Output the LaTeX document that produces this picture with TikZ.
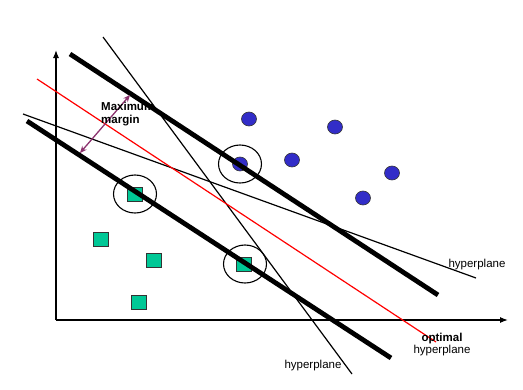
\documentclass[tikz,border=0pt]{standalone}
\usepackage{fontspec}
\setmainfont{Liberation Sans}
\usetikzlibrary{arrows.meta}
\definecolor{dotblue}{RGB}{50,45,200}
\definecolor{boxgreen}{RGB}{0,200,150}
\definecolor{marginpurple}{RGB}{140,50,110}
\begin{document}
\begin{tikzpicture}[x=1pt,y=-1pt,
    support/.style={line width=4.8pt},
    thinplane/.style={line width=1.2pt},
    dot/.style={fill=dotblue,draw=black!80,line width=0.6pt},
    box/.style={fill=boxgreen,draw=black!80,line width=0.8pt},
    ring/.style={draw=black,line width=1.1pt},
    lbl/.style={font=\fontsize{11.5}{12}\selectfont,inner sep=0pt}]
  \useasboundingbox (0,0) rectangle (523,389);
  % axes
  \draw[line width=1.2pt,-{Latex[length=8pt,width=6pt]}] (56,320) -- (508,320);
  \draw[line width=1.2pt,-{Latex[length=8pt,width=6pt]}] (56,320) -- (56,50);
  % class one
  \foreach \x/\y in {249/119,335/127,240/164,292/160,392/173,363/198}
    \draw[dot] (\x,\y) ellipse (7.5 and 7);
  % class two
  \foreach \x/\y in {135/194,101/239,154/260,139/302,244/264}
    \draw[box] (\x-7.5,\y-7) rectangle (\x+7.5,\y+7);
  % support vectors
  \draw[ring] (240,164) ellipse (21.5 and 19);
  \draw[ring] (135,194) ellipse (21.5 and 19);
  \draw[ring] (245,264) ellipse (21.5 and 19);
  % hyperplanes
  \draw[thinplane] (103,37) -- (352,374);
  \draw[thinplane] (23,114) -- (476,278);
  \draw[thinplane,red] (37,79) -- (436,342);
  \draw[support] (70,54) -- (438,295);
  \draw[support] (27,121) -- (391,358);
  % margin
  \coordinate (mlow) at (80,153);
  \coordinate (mhigh) at (130,95);
  \draw[marginpurple,line width=1.3pt,{Stealth[length=7pt,width=6pt]}-{Stealth[length=7pt,width=6pt]}] (mlow) -- (mhigh);
  \node[lbl,font=\fontsize{11.5}{13}\selectfont\bfseries,align=left,anchor=west] (maxmargin) at (101,114) {Maximum\\margin};
  \node[lbl] (hypright) at (477,265) {hyperplane};
  \node[lbl] (hypbottom) at (313,366) {hyperplane};
  \node[lbl,align=center] (hypoptimal) at (442,345) {\textbf{optimal}\\hyperplane};
\end{tikzpicture}
\end{document}
